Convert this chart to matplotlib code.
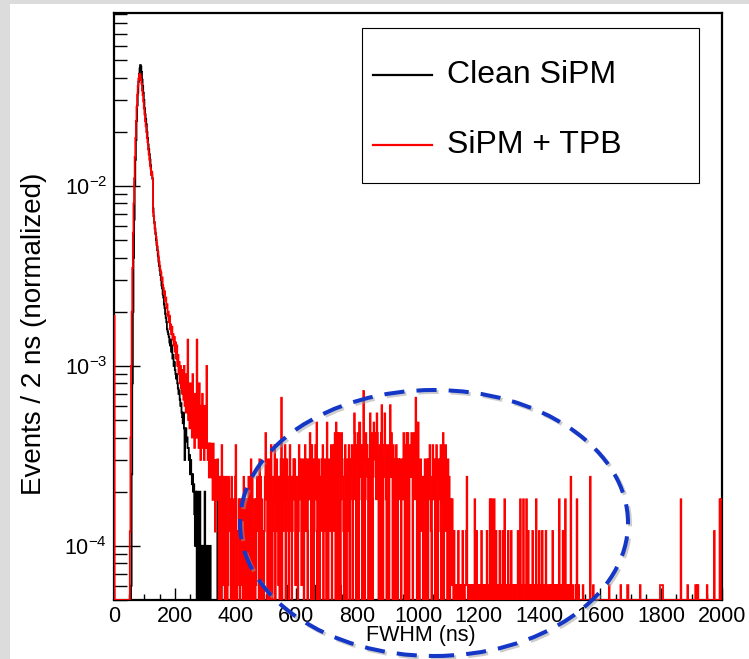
import numpy as np
import matplotlib
matplotlib.use("Agg")
import matplotlib.pyplot as plt
from matplotlib.patches import Ellipse, Rectangle
from matplotlib.lines import Line2D
from matplotlib.ticker import MultipleLocator, LogLocator, NullFormatter

plt.rcParams["font.family"] = ["Liberation Sans", "DejaVu Sans"]
plt.rcParams["mathtext.fontset"] = "custom"
plt.rcParams["mathtext.rm"] = "Liberation Sans"
plt.rcParams["mathtext.it"] = "Liberation Sans:italic"

# ------------------------------------------------------------------
# data: FWHM histograms, 2 ns bins from 0 to 2000 ns
# ------------------------------------------------------------------
bin_width = 2
core_start = 52          # first bin of the tabulated core (ns)

red_first_bin = 1.9e-3   # 0-2 ns bin of SiPM + TPB

black_core = [
    0, 0, 6e-5, 2.5e-4, 8e-4, 2.0e-3, 4.0e-3, 6.5e-3, 1.0e-2, 1.4e-2,
    1.8e-2, 2.3e-2, 2.8e-2, 3.3e-2, 3.8e-2, 4.2e-2, 4.5e-2, 4.7e-2, 4.6e-2, 4.3e-2,
    3.9e-2, 3.6e-2, 3.3e-2, 3.0e-2, 2.7e-2, 2.5e-2, 2.35e-2, 2.2e-2, 2.0e-2, 1.85e-2,
    1.7e-2, 1.6e-2, 1.5e-2, 1.4e-2, 1.3e-2, 1.2e-2, 1.15e-2, 1.1e-2, 7.5e-3, 6.8e-3,
    6.3e-3, 5.8e-3, 5.4e-3, 5.0e-3, 4.7e-3, 4.4e-3, 4.1e-3, 3.8e-3, 3.6e-3, 3.4e-3,
    3.2e-3, 3.0e-3, 2.8e-3, 2.7e-3, 2.5e-3, 2.4e-3, 2.2e-3, 2.1e-3, 1.95e-3, 1.85e-3,
    1.75e-3, 1.6e-3, 1.55e-3, 1.5e-3, 1.45e-3, 1.35e-3, 1.3e-3, 1.4e-3, 1.2e-3, 1.3e-3,
    1.1e-3, 1.15e-3, 1.0e-3, 1.05e-3, 9.5e-4, 9.0e-4, 8.5e-4, 9.0e-4, 8.0e-4, 7.5e-4,
    7.0e-4, 7.3e-4, 6.5e-4, 6.0e-4, 6.2e-4, 5.5e-4, 5.2e-4, 4.8e-4, 5.5e-4, 4.5e-4,
    3.0e-4, 4.2e-4, 4.5e-4, 3.8e-4, 4.0e-4, 3.5e-4, 3.5e-4, 3.0e-4, 3.2e-4, 2.5e-4,
    3.0e-4, 2.5e-4, 2.2e-4, 2.5e-4, 2.0e-4, 2.2e-4, 1.5e-4, 1.0e-4, 2.0e-4, 1.0e-4,
    0, 2.0e-4, 1.0e-4, 0, 1.0e-4, 2.0e-4, 0, 1.0e-4, 0, 1.0e-4,
    0, 1.0e-4, 0, 2.0e-4, 0, 1.0e-4, 0, 0, 1.0e-4, 0,
    0, 0, 1.0e-4, 0, 0, 0, 0, 0, 0, 0,
    0, 0, 0, 0,
]

red_core = [
    1.2e-4, 4e-4, 1.0e-3, 2.0e-3, 3.5e-3, 5.5e-3, 8e-3, 1.1e-2, 1.45e-2, 1.85e-2,
    2.3e-2, 2.75e-2, 3.2e-2, 3.6e-2, 3.95e-2, 4.15e-2, 4.2e-2, 4.1e-2, 3.9e-2, 3.7e-2,
    3.4e-2, 3.2e-2, 2.95e-2, 2.7e-2, 2.5e-2, 2.3e-2, 2.15e-2, 2.0e-2, 1.85e-2, 1.75e-2,
    1.6e-2, 1.5e-2, 1.4e-2, 1.3e-2, 1.25e-2, 1.15e-2, 1.2e-2, 1.1e-2, 7.2e-3, 6.8e-3,
    6.2e-3, 5.8e-3, 5.5e-3, 5.2e-3, 4.8e-3, 4.6e-3, 4.3e-3, 4.0e-3, 3.8e-3, 3.6e-3,
    3.4e-3, 3.3e-3, 3.0e-3, 3.1e-3, 2.8e-3, 2.7e-3, 2.5e-3, 2.6e-3, 2.3e-3, 2.4e-3,
    2.1e-3, 2.2e-3, 1.9e-3, 2.0e-3, 1.75e-3, 1.9e-3, 1.6e-3, 1.7e-3, 1.5e-3, 1.65e-3,
    1.4e-3, 1.5e-3, 1.3e-3, 1.45e-3, 1.2e-3, 1.35e-3, 1.1e-3, 1.3e-3, 1.0e-3, 1.15e-3,
    9e-4, 1.05e-3, 8e-4, 1.0e-3, 7.5e-4, 9.5e-4, 7e-4, 8.5e-4, 6.5e-4, 1.0e-3,
    6e-4, 8e-4, 5.5e-4, 9e-4, 6e-4, 1.4e-3, 5e-4, 7e-4, 4.5e-4, 8e-4,
    5e-4, 6.5e-4, 4e-4, 9e-4, 5e-4, 6e-4, 3.5e-4, 7e-4, 4e-4, 5.5e-4,
    1.4e-3, 4e-4, 6e-4, 3.5e-4, 8e-4, 4.5e-4, 3e-4, 6e-4, 4e-4, 7e-4,
    3.5e-4, 5e-4, 3e-4, 6e-4, 4e-4, 3.5e-4, 1.0e-3, 3.7e-4, 3e-4, 3.7e-4,
    2.4e-4, 3.7e-4, 3e-4, 3.7e-4, 2.4e-4, 3e-4, 1.8e-4, 3.7e-4, 2.4e-4, 3e-4,
    1.2e-4, 3.0e-4, 1.8e-4, 2.4e-4,
]

# SiPM + TPB tail, events per bin (hex digits), from 340 ns on
red_unit = 6.05e-5
red_tail_340 = "5403420631 4303410142 2304203104"
red_tail_400 = ("6201232031 2304120313 0412052401 2301342305 1403120247"
                "3504250463 0243602534 14035b0425 3602543026 3402453514")
red_tail_600 = ("4302643514 3504625203 5375063502 4638025304 3526035240"
                "8403524605 3627083705 7403754203 6403526035 4605397406")
red_tail_800 = ("5708846305 c403756405 5907304857 6397405607 a504696305"
                "6405a47506 4503650453 5404537305 6707305647 405736b803")
red_tail_1000 = ("8403524304 3504350536 4203643504 6302534605 3705264305"
                 "3403213202 1101102010 1102010112 4101011010 1013102010")
red_tail_1200 = ("1010210101 1102101031 0310131020 1101210102 1031011020"
                 "1012010110 1011200130 1013101031 0210101021 1011301012")
red_tail_1400 = ("1010201010 2001100101 0201011010 1030101020 1030101010"
                 "0400100001 0300100000 0100000000 0004000010 0000000000")
red_tail_1600 = ("0000000000 0000100000 0000000000 0001000000 0000110000"
                 "0000000000 0000010000 0000000000 0000000000 0000000011")
red_tail_1800 = ("1110000000 0000000000 0000000000 0030000000 0001000000"
                 "0000001110 1000000000 0000010000 0000000200 0000003033")

# clean SiPM: isolated late bins
black_tail_ns = [340, 352, 480, 572, 660, 744, 816]
black_tail_val = [2e-4, 1e-4, 1.5e-4, 6e-5, 6e-5, 6e-5, 2e-4]

ymin, ymax = 5e-5, 0.0915

# ------------------------------------------------------------------
# build histograms
# ------------------------------------------------------------------
edges = np.arange(0, 2000 + bin_width, bin_width)
nbins = len(edges) - 1
i0 = core_start // bin_width

tail_str = "".join([red_tail_340, red_tail_400, red_tail_600, red_tail_800,
                    red_tail_1000, red_tail_1200, red_tail_1400, red_tail_1600,
                    red_tail_1800]).replace(" ", "")
tail_counts = np.array([int(c, 16) for c in tail_str])
i1 = i0 + len(red_core)
assert len(black_core) == len(red_core)
assert i1 + len(tail_counts) == nbins, (i1, len(tail_counts))

red = np.zeros(nbins)
red[0] = red_first_bin
red[i0:i1] = red_core
red[i1:] = tail_counts * red_unit

black = np.zeros(nbins)
black[i0:i1] = black_core
for t, v in zip(black_tail_ns, black_tail_val):
    black[t // bin_width] = v

# empty bins sit on the frame bottom, as in ROOT
red_draw = np.where(red > 0, red, ymin)
black_draw = np.where(black > 0, black, ymin)

# ------------------------------------------------------------------
# figure
# ------------------------------------------------------------------
W, H = 749, 659
fig = plt.figure(figsize=(W / 100, H / 100), dpi=100)


def fpx(x, y):
    return x / W, 1 - y / H


# grey window border
for r in [Rectangle((0, 0), 10 / W, 1), Rectangle((0, 1 - 4 / H), 1, 4 / H)]:
    r.set_transform(fig.transFigure)
    r.set_facecolor("#dcdcdc")
    r.set_edgecolor("none")
    fig.add_artist(r)

ax = fig.add_axes([114 / W, 1 - 600 / H, 608 / W, 587 / H])
ax.stairs(black_draw, edges, color="black", lw=1.3, baseline=None, zorder=3)
ax.stairs(red_draw, edges, color="#ff0000", lw=1.3, baseline=None, zorder=3.2)

ax.set_yscale("log")
ax.set_xlim(0, 2000)
ax.set_ylim(ymin, ymax)

for s in ["left", "bottom", "top", "right"]:
    ax.spines[s].set_linewidth(1.6)

ax.set_xticks(np.arange(0, 2001, 200))
ax.xaxis.set_minor_locator(MultipleLocator(50))
ax.yaxis.set_major_locator(LogLocator(base=10))
ax.yaxis.set_minor_locator(LogLocator(base=10, subs=np.arange(2, 10)))
ax.yaxis.set_minor_formatter(NullFormatter())

ax.tick_params(axis="x", which="major", direction="in", length=8.6, width=1,
               labelsize=15.5, pad=4, top=False)
ax.tick_params(axis="x", which="minor", direction="in", length=4.3, width=1, top=False)
ax.tick_params(axis="y", which="major", direction="in", length=18.7, width=1,
               labelsize=15.5, pad=5, right=False)
ax.tick_params(axis="y", which="minor", direction="in", length=9.4, width=1, right=False)

fig.text(*fpx(421, 636), "FWHM (ns)", ha="center", va="center", fontsize=15.5)
fig.text(*fpx(34, 334), "Events / 2 ns (normalized)", ha="center", va="center",
         rotation=90, fontsize=20)

# legend box
box = Rectangle(fpx(362, 183), 337 / W, 155 / H, transform=fig.transFigure,
                facecolor="white", edgecolor="black", lw=0.8, zorder=6)
fig.add_artist(box)
for y, col, lab in [(75, "black", "Clean SiPM"), (145, "#ff0000", "SiPM + TPB")]:
    x0, yy = fpx(373, y)
    x1, _ = fpx(432, y)
    fig.add_artist(Line2D([x0, x1], [yy, yy], transform=fig.transFigure,
                          color=col, lw=1.6, zorder=7))
    fig.text(*fpx(447, y), lab, ha="left", va="center", fontsize=23, zorder=7)

# hand-drawn highlight of the late tail
blue = "#1437c8"
shadow = Ellipse(fpx(436, 525), 388 / W, 266 / H, transform=fig.transFigure,
                 fill=False, ec="#9a9a9a", lw=2.9, ls=(0, (5, 3)), alpha=0.5, zorder=7)
fig.add_artist(shadow)
ell = Ellipse(fpx(434, 523), 388 / W, 266 / H, transform=fig.transFigure,
              fill=False, ec=blue, lw=2.9, ls=(0, (5, 3)), zorder=8)
fig.add_artist(ell)

fig.savefig("out.png", dpi=100)
